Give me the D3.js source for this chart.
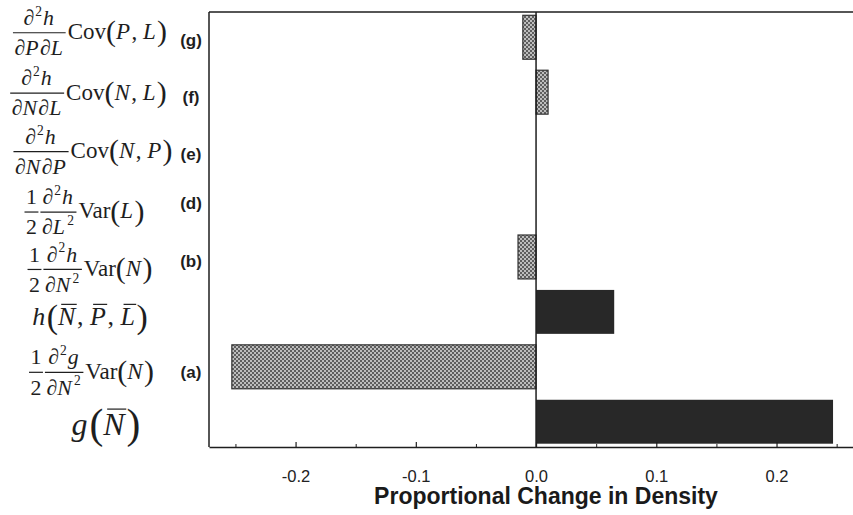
<!DOCTYPE html>
<html>
<head>
<meta charset="utf-8">
<script src="https://cdn.jsdelivr.net/npm/d3@7"></script>
<style>
  body { margin: 0; background: #fff; }
  svg { display: block; }
</style>
</head>
<body>
<svg id="chart"></svg>
<script>
// Contributions to the proportional change in density (bars top to bottom)
const categories = [
    "∂²h/∂P∂L Cov(P,L)",
    "∂²h/∂N∂L Cov(N,L)",
    "∂²h/∂N∂P Cov(N,P)",
    "1/2 ∂²h/∂L² Var(L)",
    "1/2 ∂²h/∂N² Var(N)",
    "h(N̄,P̄,L̄)",
    "1/2 ∂²g/∂N² Var(N)",
    "g(N̄)"
];
const values = [-0.011, 0.010, 0, 0, -0.015, 0.065, -0.253, 0.247];
const kinds = ["var", "var", "var", "var", "var", "mean", "var", "mean"];
const tags = ["(g)", "(f)", "(e)", "(d)", "(b)", "", "(a)", ""];
const xTicks = [-0.2, -0.1, 0.0, 0.1, 0.2];
const xTickLabels = ["-0.2", "-0.1", "0.0", "0.1", "0.2"];
const xMinorTicks = [-0.25, -0.15, -0.05, 0.05, 0.15, 0.25];
const xTitle = "Proportional Change in Density";

// math pieces for the row labels
const R = t => ({ t });
const I = t => ({ t, i: true });
const S = t => ({ t, sup: true });
const B = t => ({ t, i: true, bar: true });
const P = t => ({ t, big: true });
const F = (n, d) => ({ frac: [n, d] });
const sp = "\u00A0";
const half = F([R("1")], [R("2")]);
const d2 = [R("∂"), S("2")];

const labelMath = [
    [F([...d2, I("h")], [R("∂"), I("P"), R("∂"), I("L")]), R("Cov"), P("("), I("P"), R("," + sp), I("L"), P(")")],
    [F([...d2, I("h")], [R("∂"), I("N"), R("∂"), I("L")]), R("Cov"), P("("), I("N"), R("," + sp), I("L"), P(")")],
    [F([...d2, I("h")], [R("∂"), I("N"), R("∂"), I("P")]), R("Cov"), P("("), I("N"), R("," + sp), I("P"), P(")")],
    [half, F([...d2, I("h")], [R("∂"), I("L"), S("2")]), R("Var"), P("("), I("L"), P(")")],
    [half, F([...d2, I("h")], [R("∂"), I("N"), S("2")]), R("Var"), P("("), I("N"), P(")")],
    [I("h"), P("("), B("N"), R("," + sp), B("P"), R("," + sp), B("L"), P(")")],
    [half, F([...d2, I("g")], [R("∂"), I("N"), S("2")]), R("Var"), P("("), I("N"), P(")")],
    [I("g"), P("("), B("N"), P(")")]
];

// layout
const width = 853;
const height = 515;
const margin = { top: 12, right: 0, bottom: 68, left: 209 };
const ink = "#1e1e1e";
const serif = "'Liberation Serif', 'Times New Roman', serif";
const sans = "'Liberation Sans', Arial, sans-serif";

const svg = d3.select("#chart")
    .attr("width", width)
    .attr("height", height);

// stipple fill for the variance terms
const pat = svg.append("defs").append("pattern")
    .attr("id", "stipple")
    .attr("patternUnits", "userSpaceOnUse")
    .attr("width", 4)
    .attr("height", 4);
pat.append("rect").attr("width", 4).attr("height", 4).attr("fill", "#bdbdbd");
pat.append("rect").attr("width", 2).attr("height", 2).attr("fill", "#5e5e5e");
pat.append("rect").attr("x", 2).attr("y", 2).attr("width", 2).attr("height", 2).attr("fill", "#5e5e5e");

const x = d3.scaleLinear()
    .domain([-0.272, 0.2636])
    .range([margin.left, width - margin.right]);

const y = d3.scaleBand()
    .domain(categories)
    .range([margin.top, height - margin.bottom])
    .paddingInner(0.2)
    .paddingOuter(0.06);

// bars
svg.append("g")
    .selectAll("rect")
    .data(values)
    .join("rect")
    .attr("x", d => x(Math.min(0, d)))
    .attr("y", (d, i) => y(categories[i]))
    .attr("width", d => Math.abs(x(d) - x(0)))
    .attr("height", y.bandwidth())
    .attr("fill", (d, i) => kinds[i] === "var" ? "url(#stipple)" : "#282828")
    .attr("stroke", (d, i) => kinds[i] === "var" && d !== 0 ? "#333" : "none")
    .attr("stroke-width", 1.2);

// frame: top and left lines, zero line
const yTop = margin.top, yBot = height - margin.bottom;
svg.append("line")
    .attr("x1", margin.left).attr("x2", width)
    .attr("y1", yTop).attr("y2", yTop)
    .attr("stroke", ink).attr("stroke-width", 1.5);
svg.append("line")
    .attr("x1", margin.left).attr("x2", margin.left)
    .attr("y1", yTop).attr("y2", yBot)
    .attr("stroke", ink).attr("stroke-width", 1.5);
svg.append("line")
    .attr("x1", x(0)).attr("x2", x(0))
    .attr("y1", yTop).attr("y2", yBot)
    .attr("stroke", ink).attr("stroke-width", 1.5);

// x axis with inward ticks
const xAxis = svg.append("g")
    .attr("transform", `translate(0,${yBot})`)
    .call(d3.axisBottom(x)
        .tickValues(xTicks)
        .tickFormat((d, i) => xTickLabels[i])
        .tickSizeInner(-5)
        .tickSizeOuter(0)
        .tickPadding(23));
xAxis.select(".domain").attr("stroke", ink).attr("stroke-width", 1.5);
xAxis.selectAll(".tick line").attr("stroke", ink).attr("stroke-width", 1.2);
xAxis.selectAll(".tick text")
    .attr("font-family", sans)
    .attr("font-size", 16.5)
    .attr("fill", "#222");

svg.append("g")
    .attr("transform", `translate(0,${yBot})`)
    .call(d3.axisBottom(x)
        .tickValues(xMinorTicks)
        .tickFormat("")
        .tickSizeInner(-3)
        .tickSizeOuter(0))
    .call(g => g.select(".domain").remove())
    .selectAll(".tick line").attr("stroke", ink);

svg.append("text")
    .attr("x", 546)
    .attr("y", 504)
    .attr("text-anchor", "middle")
    .attr("font-family", sans)
    .attr("font-weight", "bold")
    .attr("font-size", 23)
    .attr("fill", "#1a1a1a")
    .text(xTitle);

// simple inline math layout: returns the advance width
function drawMath(parent, items, size) {
    let cx = 0;
    items.forEach(it => {
        if (it.frac) {
            const fs = size * 0.95;
            const gn = parent.append("g");
            const gd = parent.append("g");
            const wn = drawMath(gn, it.frac[0], fs);
            const wd = drawMath(gd, it.frac[1], fs);
            const w = Math.max(wn, wd) + 3;
            const ly = -size * 0.28;
            gn.attr("transform", `translate(${cx + (w - wn) / 2},${ly - fs * 0.36})`);
            gd.attr("transform", `translate(${cx + (w - wd) / 2},${ly + fs * 1.02})`);
            parent.append("line")
                .attr("x1", cx).attr("x2", cx + w)
                .attr("y1", ly).attr("y2", ly)
                .attr("stroke", ink).attr("stroke-width", 1.2);
            cx += w + 2;
        } else {
            const fsz = it.big ? size * 1.3 : it.sup ? size * 0.62 : size;
            const ty = it.big ? size * 0.09 : it.sup ? -size * 0.42 : 0;
            const t = parent.append("text")
                .attr("x", cx + (it.sup ? 1 : 0))
                .attr("y", ty)
                .attr("font-family", serif)
                .attr("font-size", fsz)
                .attr("font-style", it.i ? "italic" : "normal")
                .attr("fill", ink)
                .text(it.t);
            const w = t.node().getComputedTextLength();
            if (it.bar) {
                parent.append("line")
                    .attr("x1", cx + size * 0.12).attr("x2", cx + w + size * 0.05)
                    .attr("y1", -size * 0.8).attr("y2", -size * 0.8)
                    .attr("stroke", ink).attr("stroke-width", 1.2);
            }
            cx += w + (it.i ? size * 0.06 : 0) + (it.sup ? 2 : 0);
        }
    });
    return cx;
}

// row labels on the left (hand-placed in the original figure)
const labelSize = [23, 23, 23, 23, 23, 26, 23, 32];
const labelDy = [-4.5, 1, 4.5, 10, 12.5, 6, 5.5, 4];
const labelCx = [90, 88.5, 93, 84.5, 90, 90, 91.5, 106];
const tagDy = [9, 10.5, 13, 6.5, 10, 0, 11];

categories.forEach((c, i) => {
    const cy = y(c) + y.bandwidth() / 2;
    const g = svg.append("g");
    const w = drawMath(g, labelMath[i], labelSize[i]);
    g.attr("transform", `translate(${labelCx[i] - w / 2},${cy + labelDy[i] + labelSize[i] * 0.28})`);

    if (tags[i]) {
        svg.append("text")
            .attr("x", 191)
            .attr("y", cy + tagDy[i])
            .attr("text-anchor", "middle")
            .attr("font-family", sans)
            .attr("font-weight", "bold")
            .attr("font-size", 17)
            .attr("fill", ink)
            .text(tags[i]);
    }
});
</script>
</body>
</html>
